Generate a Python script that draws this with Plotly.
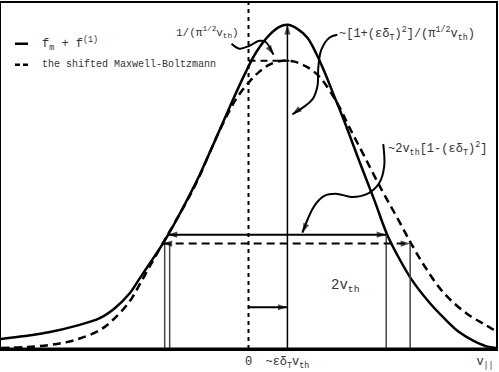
import plotly.graph_objects as go

# speed axis: 0 at the dotted line; heights above the baseline (arbitrary units)
v_sol = [-248, -224, -199, -174, -149, -134, -119, -109, -99, -89, -81, -71, -61, -49, -36, -19,
         -4, 8, 21, 31, 39, 49, 59, 68, 76, 86, 96, 111, 126, 139, 151, 164, 181, 196, 211, 226, 241, 248]
f_sol = [10, 13, 17, 23, 31, 41, 56, 71, 86, 101, 114, 132, 151, 175, 204, 243,
         276, 299, 316, 324, 326, 322, 313, 297, 279, 254, 229, 189, 150, 115, 91, 69, 47, 31, 17, 8, 2, 1]

v_mb = [-248, -224, -199, -174, -149, -134, -119, -109, -99, -86, -74, -61, -49, -37, -24, -12,
        1, 11, 21, 34, 46, 58, 71, 88, 101, 116, 134, 149, 163, 176, 191, 206, 221, 236, 248]
f_mb = [1, 2, 4, 9, 19, 31, 48, 65, 83, 106, 127, 150, 174, 202, 230, 252,
        269, 279, 286, 290, 289, 284, 274, 249, 223, 194, 159, 132, 106, 84, 62, 46, 34, 25, 18]

shift = 39          # ~ eps delta_T v_th
peak_sol = 326
peak_mb = 290
width_sol = [-81, 138]
width_mb = [-86, 162]
h_width_sol = 115
h_width_mb = 106
h_shift = 42

tick_vals = [0, shift, 237]
tick_text = ["0", "~εδ<sub>T</sub>v<sub>th</sub>", "v<sub>||</sub>"]

# curly pointer arrows (label -> target)
curl1_x = [-17, -9, 1, 11, 17, 25]
curl1_y = [307, 302, 305, 310, 309, 296]
curl2_x = [89, 81, 73, 70, 69, 64, 44]
curl2_y = [316, 313, 301, 284, 264, 251, 236]
curl3_x = [135, 136, 131, 119, 103, 89, 76, 66, 54]
curl3_y = [206, 184, 167, 156, 153, 156, 154, 144, 117]

FONT = "Liberation Mono"
TXT = "#333333"

fig = go.Figure()


def line(x, y, width=2, dash=None, color="black", shape="linear"):
    fig.add_trace(go.Scatter(x=x, y=y, mode="lines", hoverinfo="skip",
                             line=dict(color=color, width=width, dash=dash, shape=shape)))


def arrow(x, y, angles, sizes, width=2, dash=None, shape="linear", angleref="up"):
    mk = dict(symbol="arrow", size=sizes, color="black", line=dict(width=0), angleref=angleref)
    if angleref == "up":
        mk["angle"] = angles
    fig.add_trace(go.Scatter(x=x, y=y, mode="lines+markers", hoverinfo="skip",
                             line=dict(color="black", width=width, dash=dash, shape=shape),
                             marker=mk))


# curves
line(v_sol, f_sol, width=2.5, shape="spline")
line(v_mb, f_mb, width=2.5, dash="8px,5px", shape="spline")

# dotted zero line and dashed peak level
line([0, 0], [0, 348], width=2, dash="4px,4px")
line([0, 41], [peak_mb, peak_mb], width=2, dash="7px,5px")

# thin verticals down from the width arrows
for xv, yv in [(-84, 107), (-79, 107), (width_sol[1], h_width_sol), (width_mb[1], h_width_mb)]:
    line([xv, xv], [0, yv], width=1.5, color="#444444")

# central arrow to the peak and shift arrow
arrow([shift, shift], [0, peak_sol], [0, 0], [0, 10], width=1.5)
arrow([0, shift], [h_shift, h_shift], [90, 90], [0, 10], width=2)

# width arrows
arrow(width_sol, [h_width_sol] * 2, [270, 90], [10, 10], width=2)
arrow(width_mb, [h_width_mb] * 2, [270, 90], [10, 10], width=2, dash="8px,5px")

# curly pointers
for cx, cy in [(curl1_x, curl1_y), (curl2_x, curl2_y), (curl3_x, curl3_y)]:
    arrow(cx, cy, None, [0] * (len(cx) - 1) + [10], width=2, shape="spline", angleref="previous")

# legend drawn by hand
line([-234, -221], [307, 307], width=2.5)
line([-234, -221], [286, 286], width=2.5, dash="5px,3px")

notes = [
    (-209, 307, "left", "f<sub>m</sub> + f<sup>(1)</sup>", 12),
    (-209, 286, "left", "the shifted Maxwell-Boltzmann", 10),
    (-8, 318, "right", "1/(π<sup>1/2</sup>v<sub>th</sub>)", 11),
    (89, 317, "left", "~[1+(εδ<sub>T</sub>)<sup>2</sup>]/(π<sup>1/2</sup>v<sub>th</sub>)", 12),
    (138, 201, "left", "~2v<sub>th</sub>[1-(εδ<sub>T</sub>)<sup>2</sup>]", 12),
    (97, 63, "center", "2v<sub>th</sub>", 14),
]
for x, y, anchor, text, size in notes:
    fig.add_annotation(x=x, y=y, text=text, showarrow=False, xanchor=anchor, yanchor="middle",
                       font=dict(family=FONT, size=size, color=TXT))

fig.update_layout(
    width=499, height=372,
    margin=dict(l=1, r=2, t=1, b=23),
    paper_bgcolor="white", plot_bgcolor="white",
    showlegend=False,
    xaxis=dict(range=[-248, 248], showgrid=False, zeroline=False, showline=True, mirror=True,
               linecolor="black", linewidth=2, ticks="", tickvals=tick_vals, ticktext=tick_text,
               tickfont=dict(family=FONT, size=12, color=TXT)),
    yaxis=dict(range=[0, 348], showgrid=False, zeroline=False, showline=True, mirror=True,
               linecolor="black", linewidth=2, showticklabels=False, ticks=""),
)

# baseline drawn heavier than the frame
fig.add_shape(type="line", xref="paper", yref="paper", x0=0, x1=1, y0=0, y1=0,
              line=dict(color="black", width=3))

fig.write_html("out.html", config={"displayModeBar": False},
               post_script="document.body.style.margin='0px';")
